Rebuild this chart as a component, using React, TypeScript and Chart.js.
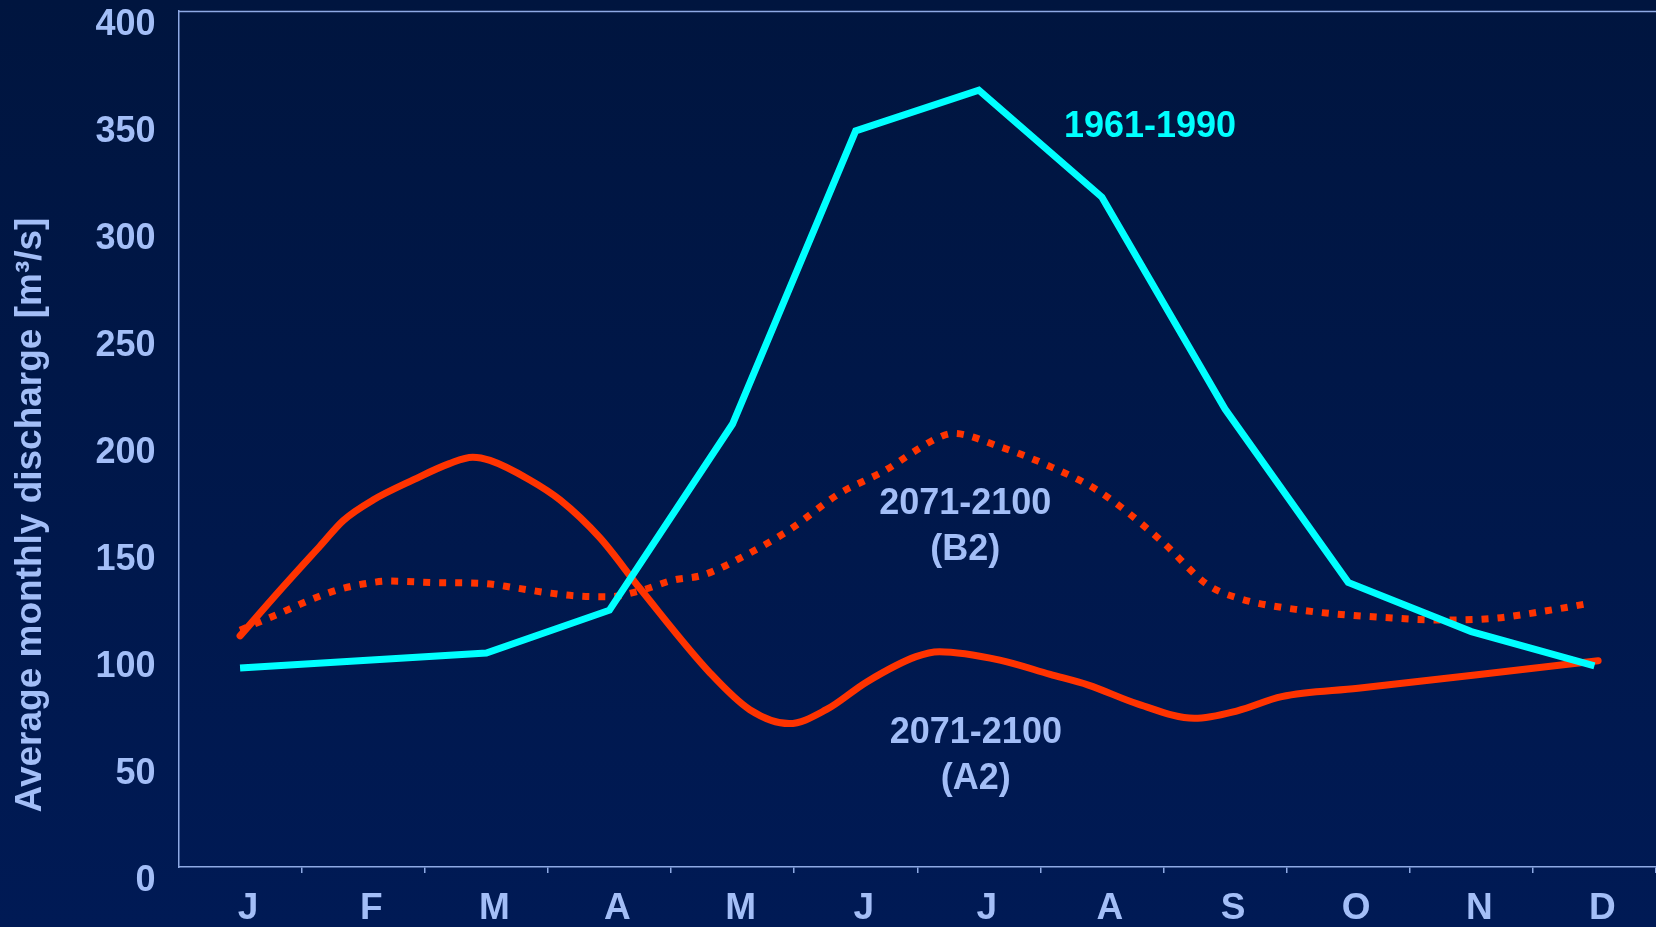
import React, { useEffect, useRef } from "react";
import { Chart, registerables } from "chart.js";

Chart.register(...registerables);

// ---- Data ----
const months = ["J", "F", "M", "A", "M", "J", "J", "A", "S", "O", "N", "D"];

// 1961-1990 observed, one value per month
const reference1961 = [93, 96.5, 100, 120, 207, 344, 363, 313, 214, 133, 110, 94];

// 2071-2100 (A2) smoothed curve: month position (0 = Jan) and value
const a2Month = [0, 0.32, 0.65, 0.84, 1.08, 1.41, 1.7, 1.89, 2.03, 2.35, 2.6, 2.92, 3.25, 3.82, 4.14, 4.46, 4.76, 5.09, 5.49, 5.68, 6.17, 6.58, 6.89, 7.3, 7.75, 8.1, 8.46, 9.08, 10.03, 11.03];
const a2Value = [108, 129, 150, 162, 171.5, 181, 188.5, 191.5, 190, 181, 171.5, 154, 130, 90.5, 73.5, 67, 73.5, 86.5, 98.3, 100.6, 96.7, 90, 85, 76, 69.5, 73, 79.6, 83.5, 89.7, 96.4];

// 2071-2100 (B2) smoothed curve
const b2Month = [0, 0.32, 0.57, 0.81, 1.07, 1.2, 1.59, 1.97, 2.23, 2.49, 2.75, 3.0, 3.25, 3.52, 3.76, 4.11, 4.46, 4.87, 5.22, 5.66, 5.79, 6.17, 6.55, 6.98, 7.49, 7.86, 8.11, 8.61, 9.4, 9.77, 10.18, 10.68, 10.93];
const b2Value = [110.7, 118.5, 124.8, 129.8, 132.9, 133.6, 132.9, 132.5, 130.5, 128.2, 126.6, 126.3, 129.1, 134.1, 136.4, 145.8, 157.5, 174.6, 184.7, 200.3, 202.6, 196.4, 187.9, 175.4, 152, 131.8, 125.6, 120.1, 116.2, 115.4, 116.2, 120.4, 122.9];

const yMin = 0;
const yMax = 400;
const yStep = 50;

const yTitle = "Average monthly discharge [m³/s]";

// ---- Styles ----
const FONT = "'Liberation Sans', Arial, Helvetica, sans-serif";
const LABEL_COLOR = "#a3bef7";
const AXIS_COLOR = "#8ea9e4";
const CYAN = "#00ffff";
const RED = "#ff3300";

// text annotations placed in data space (month position, value)
const annotations = [
  { lines: ["1961-1990"], month: 7.39, value: 345.8, color: CYAN },
  { lines: ["2071-2100", "(B2)"], month: 5.89, value: 169.5, color: LABEL_COLOR },
  { lines: ["2071-2100", "(A2)"], month: 5.976, value: 62.6, color: LABEL_COLOR },
];

const extrasPlugin = {
  id: "extras",
  afterDraw(chart: any) {
    const { ctx, chartArea } = chart;
    const xs = chart.scales.xv;
    const ys = chart.scales.y;
    ctx.save();
    // top frame line
    ctx.strokeStyle = AXIS_COLOR;
    ctx.lineWidth = 1.5;
    ctx.beginPath();
    ctx.moveTo(chartArea.left, chartArea.top + 0.5);
    ctx.lineTo(chartArea.right, chartArea.top + 0.5);
    ctx.stroke();

    // annotations
    ctx.font = `bold 36px ${FONT}`;
    ctx.textAlign = "center";
    ctx.textBaseline = "middle";
    for (const a of annotations) {
      const x = xs.getPixelForValue(a.month);
      const y = ys.getPixelForValue(a.value);
      ctx.fillStyle = a.color;
      a.lines.forEach((t, i) => ctx.fillText(t, x, y + i * 46));
    }

    // y axis title
    ctx.translate(41, 515);
    ctx.rotate(-Math.PI / 2);
    ctx.font = `bold 37px ${FONT}`;
    ctx.fillStyle = LABEL_COLOR;
    ctx.textAlign = "center";
    ctx.textBaseline = "alphabetic";
    ctx.fillText(yTitle, 0, 0);
    ctx.restore();
  },
};

export default function App() {
  const canvasRef = useRef<HTMLCanvasElement | null>(null);

  useEffect(() => {
    document.body.style.margin = "0";
    const canvas = canvasRef.current;
    if (!canvas) return;
    const chart = new Chart(canvas, {
      type: "line",
      data: {
        labels: months,
        datasets: [
          {
            label: "1961-1990",
            data: reference1961.map((v, i) => ({ x: i, y: v })),
            xAxisID: "xv",
            borderColor: CYAN,
            borderWidth: 7,
            pointRadius: 0,
            tension: 0,
            borderJoinStyle: "miter",
            fill: false,
          },
          {
            label: "2071-2100 (A2)",
            data: a2Month.map((m, i) => ({ x: m, y: a2Value[i] })),
            xAxisID: "xv",
            borderColor: RED,
            borderWidth: 7,
            pointRadius: 0,
            cubicInterpolationMode: "monotone",
            borderCapStyle: "round",
            fill: false,
          },
          {
            label: "2071-2100 (B2)",
            data: b2Month.map((m, i) => ({ x: m, y: b2Value[i] })),
            xAxisID: "xv",
            borderColor: RED,
            borderWidth: 7,
            borderDash: [7, 9],
            pointRadius: 0,
            cubicInterpolationMode: "monotone",
            fill: false,
          },
        ],
      },
      options: {
        responsive: false,
        animation: false,
        layout: { padding: { top: 11, right: 0, bottom: 0, left: 0 } },
        plugins: { legend: { display: false }, tooltip: { enabled: false } },
        scales: {
          x: {
            type: "category",
            position: "bottom",
            offset: true,
            grid: {
              display: true,
              offset: true,
              drawOnChartArea: false,
              drawTicks: true,
              tickLength: 6,
              lineWidth: 1.5,
              color: (c: any) => (c.index === 0 ? "rgba(0,0,0,0)" : AXIS_COLOR),
            },
            border: { display: true, color: AXIS_COLOR, width: 1.5 },
            ticks: {
              color: LABEL_COLOR,
              font: { family: FONT, size: 37, weight: "bold" },
              padding: 14,
              labelOffset: 8,
              maxRotation: 0,
              autoSkip: false,
            },
            afterFit: (s: any) => {
              s.height = 60;
              s.paddingLeft = 0;
              s.paddingRight = 0;
            },
          },
          xv: {
            type: "linear",
            display: false,
            min: -0.5,
            max: 11.5,
          },
          y: {
            min: yMin,
            max: yMax,
            ticks: {
              stepSize: yStep,
              labelOffset: 14,
              padding: 23,
              color: LABEL_COLOR,
              font: { family: FONT, size: 36, weight: "bold" },
            },
            grid: { display: false, drawTicks: false },
            border: { display: true, color: AXIS_COLOR, width: 1.5 },
            afterFit: (s: any) => {
              s.width = 178.5;
              s.paddingTop = 0;
              s.paddingBottom = 0;
            },
          },
        },
      } as any,
      plugins: [extrasPlugin],
    });
    return () => chart.destroy();
  }, []);

  return (
    <div
      style={{
        position: "fixed",
        left: 0,
        top: 0,
        width: 1656,
        height: 927,
        background: "linear-gradient(180deg, #00153f 0%, #001a55 100%)",
      }}
    >
      <canvas ref={canvasRef} width={1656} height={927} style={{ display: "block" }} />
    </div>
  );
}
